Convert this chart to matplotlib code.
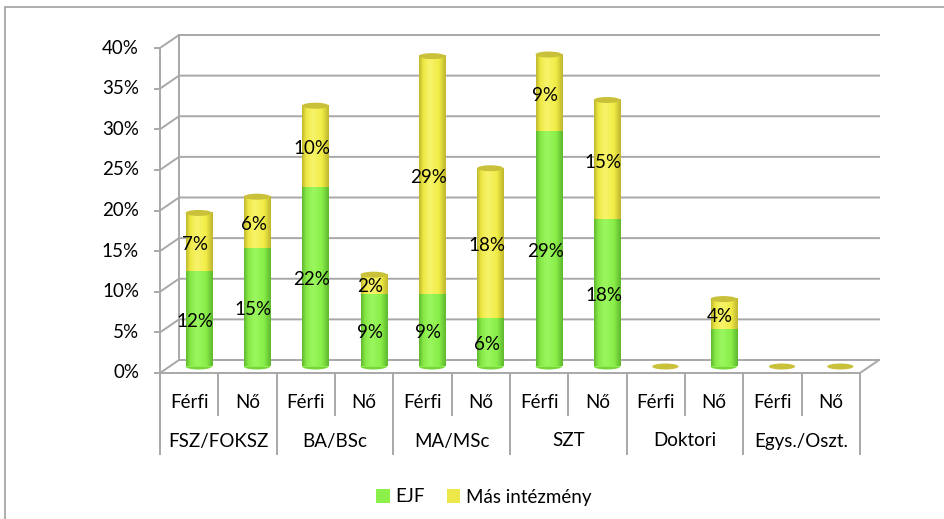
import matplotlib
matplotlib.use('Agg')
import matplotlib.pyplot as plt
from matplotlib.transforms import ScaledTranslation
from matplotlib.patches import Ellipse, Rectangle, Patch
from matplotlib.colors import LinearSegmentedColormap
import numpy as np

plt.rcParams['font.family'] = ['Lato', 'DejaVu Sans']

# ---------------- data ----------------
groups = ['FSZ/FOKSZ', 'BA/BSc', 'MA/MSc', 'SZT', 'Doktori', 'Egys./Oszt.']
genders = ['Férfi', 'Nő']
series_names = ['EJF', 'Más intézmény']
ejf = [11.7, 14.6, 22.1, 8.9, 8.9, 6.0, 29.0, 18.1, 0.0, 4.6, 0.0, 0.0]
mas = [7.2, 6.3, 10.0, 2.4, 29.3, 18.4, 9.4, 14.7, 0.0, 3.7, 0.0, 0.0]
ejf_labels = ['12%', '15%', '22%', '9%', '9%', '6%', '29%', '18%', '', '', '', '']
mas_labels = ['7%', '6%', '10%', '2%', '29%', '18%', '9%', '15%', '', '4%', '', '']
yticks = [0, 5, 10, 15, 20, 25, 30, 35, 40]
ytick_labels = ['0%', '5%', '10%', '15%', '20%', '25%', '30%', '35%', '40%']

# ---------------- layout ----------------
W, H = 944, 519
fig = plt.figure(figsize=(W / 100, H / 100), dpi=100)
fig.patch.set_facecolor('white')
ax = fig.add_axes([160 / W, 146 / H, 700 / W, 325 / H])
n = len(ejf)
ax.set_xlim(-0.5, n - 0.5)
ax.set_ylim(0, 40)
ax.axis('off')

px_x = 700 / n      # pixels per category
px_y = 325 / 40     # pixels per percent
DX = 19 / px_x      # depth offset in data units
DY = 13 / px_y

grid_c = '#A8A8A8'
lw = 1.4
FS = 13.5

# back wall gridlines + left wall diagonals + ticks
for y in yticks:
    ax.plot([-0.5, -0.5 + DX, n - 0.5 + DX], [y, y + DY, y + DY], color=grid_c,
            lw=lw, clip_on=False, zorder=1, solid_joinstyle='miter')
    ax.plot([-0.5 - 5 / px_x, -0.5], [y, y], color=grid_c, lw=lw, clip_on=False, zorder=1)
ax.plot([-0.5, -0.5], [0, 40], color=grid_c, lw=lw, clip_on=False, zorder=1)
ax.plot([-0.5 + DX, -0.5 + DX], [DY, 40 + DY], color=grid_c, lw=lw, clip_on=False, zorder=1)
# floor front edge and right edge
ax.plot([-0.5, n - 0.5, n - 0.5 + DX], [0, 0, DY], color=grid_c, lw=lw,
        clip_on=False, zorder=4, solid_joinstyle='miter')

# category separators
short_y = -(415 - 373) / px_y
long_y = -(454 - 373) / px_y
for i in range(n + 1):
    xb = -0.5 + i
    ax.plot([xb, xb], [0, long_y if i % 2 == 0 else short_y], color=grid_c, lw=lw,
            clip_on=False, zorder=1)

# ---------------- bars (cylinders) ----------------
mid = ax.transData + ScaledTranslation(9.5 / 100, 6.5 / 100, fig.dpi_scale_trans)
x = np.arange(n)
bw = 0.45
green, yellow = '#8CF04A', '#F2EE48'
cmap_g = LinearSegmentedColormap.from_list('g', [(0, '#5FB82E'), (0.15, '#86E846'), (0.4, '#9CF760'),
                                                 (0.75, '#88EE48'), (1, '#5FB82E')])
cmap_y = LinearSegmentedColormap.from_list('y', [(0, '#BFB62E'), (0.15, '#EEE844'), (0.4, '#F8F46C'),
                                                 (0.75, '#F0EC46'), (1, '#BFB62E')])
b1 = ax.bar(x, ejf, width=bw, color=green, zorder=3, linewidth=0)
b2 = ax.bar(x, mas, bottom=ejf, width=bw, color=yellow, zorder=3, linewidth=0)
grad = np.linspace(0, 1, 64).reshape(1, -1)
cap_h = 6 / px_y
for cont, cm, base in ((b1, cmap_g, green), (b2, cmap_y, yellow)):
    for r in cont:
        r.set_transform(mid)
        x0, y0 = r.get_xy()
        w, h = r.get_width(), r.get_height()
        if h <= 0:
            continue
        im = ax.imshow(grad, extent=(x0, x0 + w, y0, y0 + h), cmap=cm, aspect='auto',
                       interpolation='bicubic', zorder=3.1)
        im.set_transform(mid)

tot = np.array(ejf) + np.array(mas)
for i in range(n):
    if ejf[i] > 0:
        ax.add_patch(Ellipse((x[i], 0), bw, cap_h, transform=mid, fc='#78D63C', ec='none', zorder=2.9))
    ax.add_patch(Ellipse((x[i], tot[i]), bw, cap_h, transform=mid, fc='#C9C13A', ec='none', zorder=5))

ax.set_xlim(-0.5, n - 0.5)
ax.set_ylim(0, 40)

# data labels
lab = ax.transData + ScaledTranslation(6 / 100, 4 / 100, fig.dpi_scale_trans)
for i in range(n):
    if ejf_labels[i]:
        ax.text(x[i], ejf[i] / 2, ejf_labels[i], transform=lab, ha='center', va='center',
                fontsize=FS, zorder=6)
    if mas_labels[i]:
        ax.text(x[i], ejf[i] + mas[i] / 2, mas_labels[i], transform=lab, ha='center',
                va='center', fontsize=FS, zorder=6)

# y tick labels
for y, t in zip(yticks, ytick_labels):
    ax.text(-0.5 - 21 / px_x, y, t, ha='right', va='center', fontsize=FS, clip_on=False)

# category labels
for i in range(n):
    ax.text(x[i], -(402 - 373) / px_y, genders[i % 2], ha='center', va='center',
            fontsize=FS, clip_on=False)
for g, name in enumerate(groups):
    ax.text(2 * g + 0.5, -(441 - 373) / px_y, name, ha='center', va='center',
            fontsize=FS, clip_on=False)

# legend
handles = [Patch(facecolor=green, edgecolor='none'), Patch(facecolor='#EDE84A', edgecolor='none')]
fig.legend(handles, series_names, loc='center', bbox_to_anchor=(484 / W, 1 - 497 / H), ncol=2,
           frameon=False, handlelength=0.7, handleheight=0.7, handletextpad=0.3,
           columnspacing=1.2, fontsize=FS)

# outer border
fig.patches.append(Rectangle((5 / W, -0.1), 1.2, 1 - 7 / H + 0.1, transform=fig.transFigure,
                             fill=False, ec='#A0A0A0', lw=1.2))

fig.savefig('out.png', dpi=100)
